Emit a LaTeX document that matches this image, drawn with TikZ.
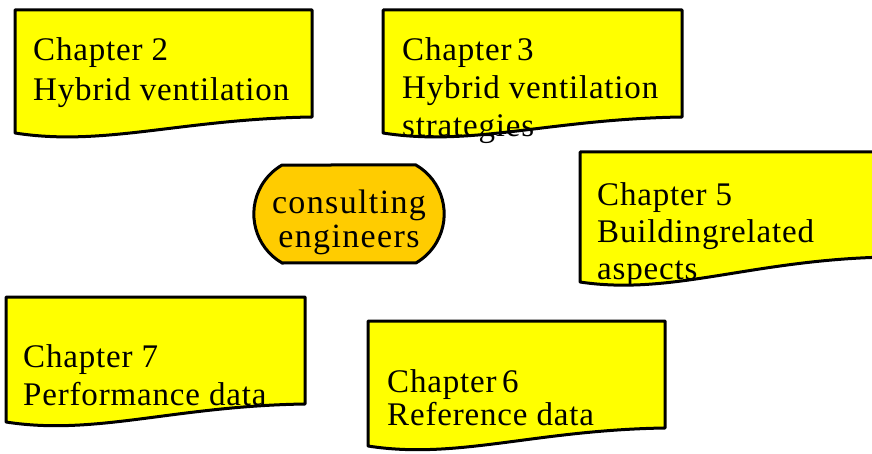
\documentclass[tikz,border=0pt]{standalone}
\usepackage{fontspec}
\setmainfont{Liberation Serif}
\usetikzlibrary{shapes.misc}
\definecolor{sheetyellow}{RGB}{255,255,0}
\definecolor{grouporange}{RGB}{255,204,0}
\tikzset{
        % Chapter sheets
        node_sheet/.style={draw=black, fill=sheetyellow, line width=3pt, line join=round},
        % Text on the sheets
        node_chapter/.style={align=left, inner sep=0pt, anchor=north west},
        % Target group in the middle
        node_group/.style={rounded rectangle, rounded rectangle arc length=120, draw=black, fill=grouporange, line width=3pt, minimum width=197pt, minimum height=98pt},
        node_group_text/.style={align=center, inner sep=0pt, font=\fontsize{34}{34}\selectfont\addfontfeature{LetterSpace=4}}
}
% sheet with a wavy lower edge: left, right, top, lower left, lower right
\newcommand{\chaptersheet}[5]{%
    \draw[node_sheet] (#1,#3) -- (#2,#3) -- (#2,#5)
        .. controls ({#1+0.56*(#2-#1)},#5+2) and ({#1+0.3*(#2-#1)},#4+14) .. (#1,#4) -- cycle;
}
% font of the sheets, with its line distance
\newcommand{\sheetfont}[1]{\fontsize{33}{#1}\selectfont\addfontfeature{LetterSpace=2.5}}
\begin{document}
\begin{tikzpicture}[x=1pt, y=-1pt]
    \useasboundingbox (0,0) rectangle (872,454);
    \clip (0,0) rectangle (872,454);
    % sheets
    \chaptersheet{15}{312}{10}{133}{117}
    \chaptersheet{383}{682}{10}{133}{117}
    \chaptersheet{580}{890}{152}{282}{257}
    \chaptersheet{6}{305}{297}{422}{404}
    \chaptersheet{368}{665}{321}{446}{428}
    % texts
    \node[node_chapter, font=\sheetfont{40}] (ch2) at (33,37.5) {Chapter 2\\Hybrid ventilation};
    \node[node_chapter, font=\sheetfont{38}] (ch3) at (402,37.5) {Chapter\,3\\Hybrid ventilation\\strategies};
    \node[node_chapter, font=\sheetfont{37}] (ch5) at (597,182.5) {Chapter 5\\Buildingrelated\\aspects};
    \node[node_chapter, font=\sheetfont{38}] (ch7) at (23,344.5) {Chapter 7\\Performance data};
    \node[node_chapter, font=\sheetfont{33}] (ch6) at (387,369.5) {Chapter\,6\\Reference data};
    % consulting engineers
    \node[node_group] (group) at (349,214) {};
    \node[node_group_text] (group_text) at (349,222) {consulting\\engineers};
\end{tikzpicture}
\end{document}
